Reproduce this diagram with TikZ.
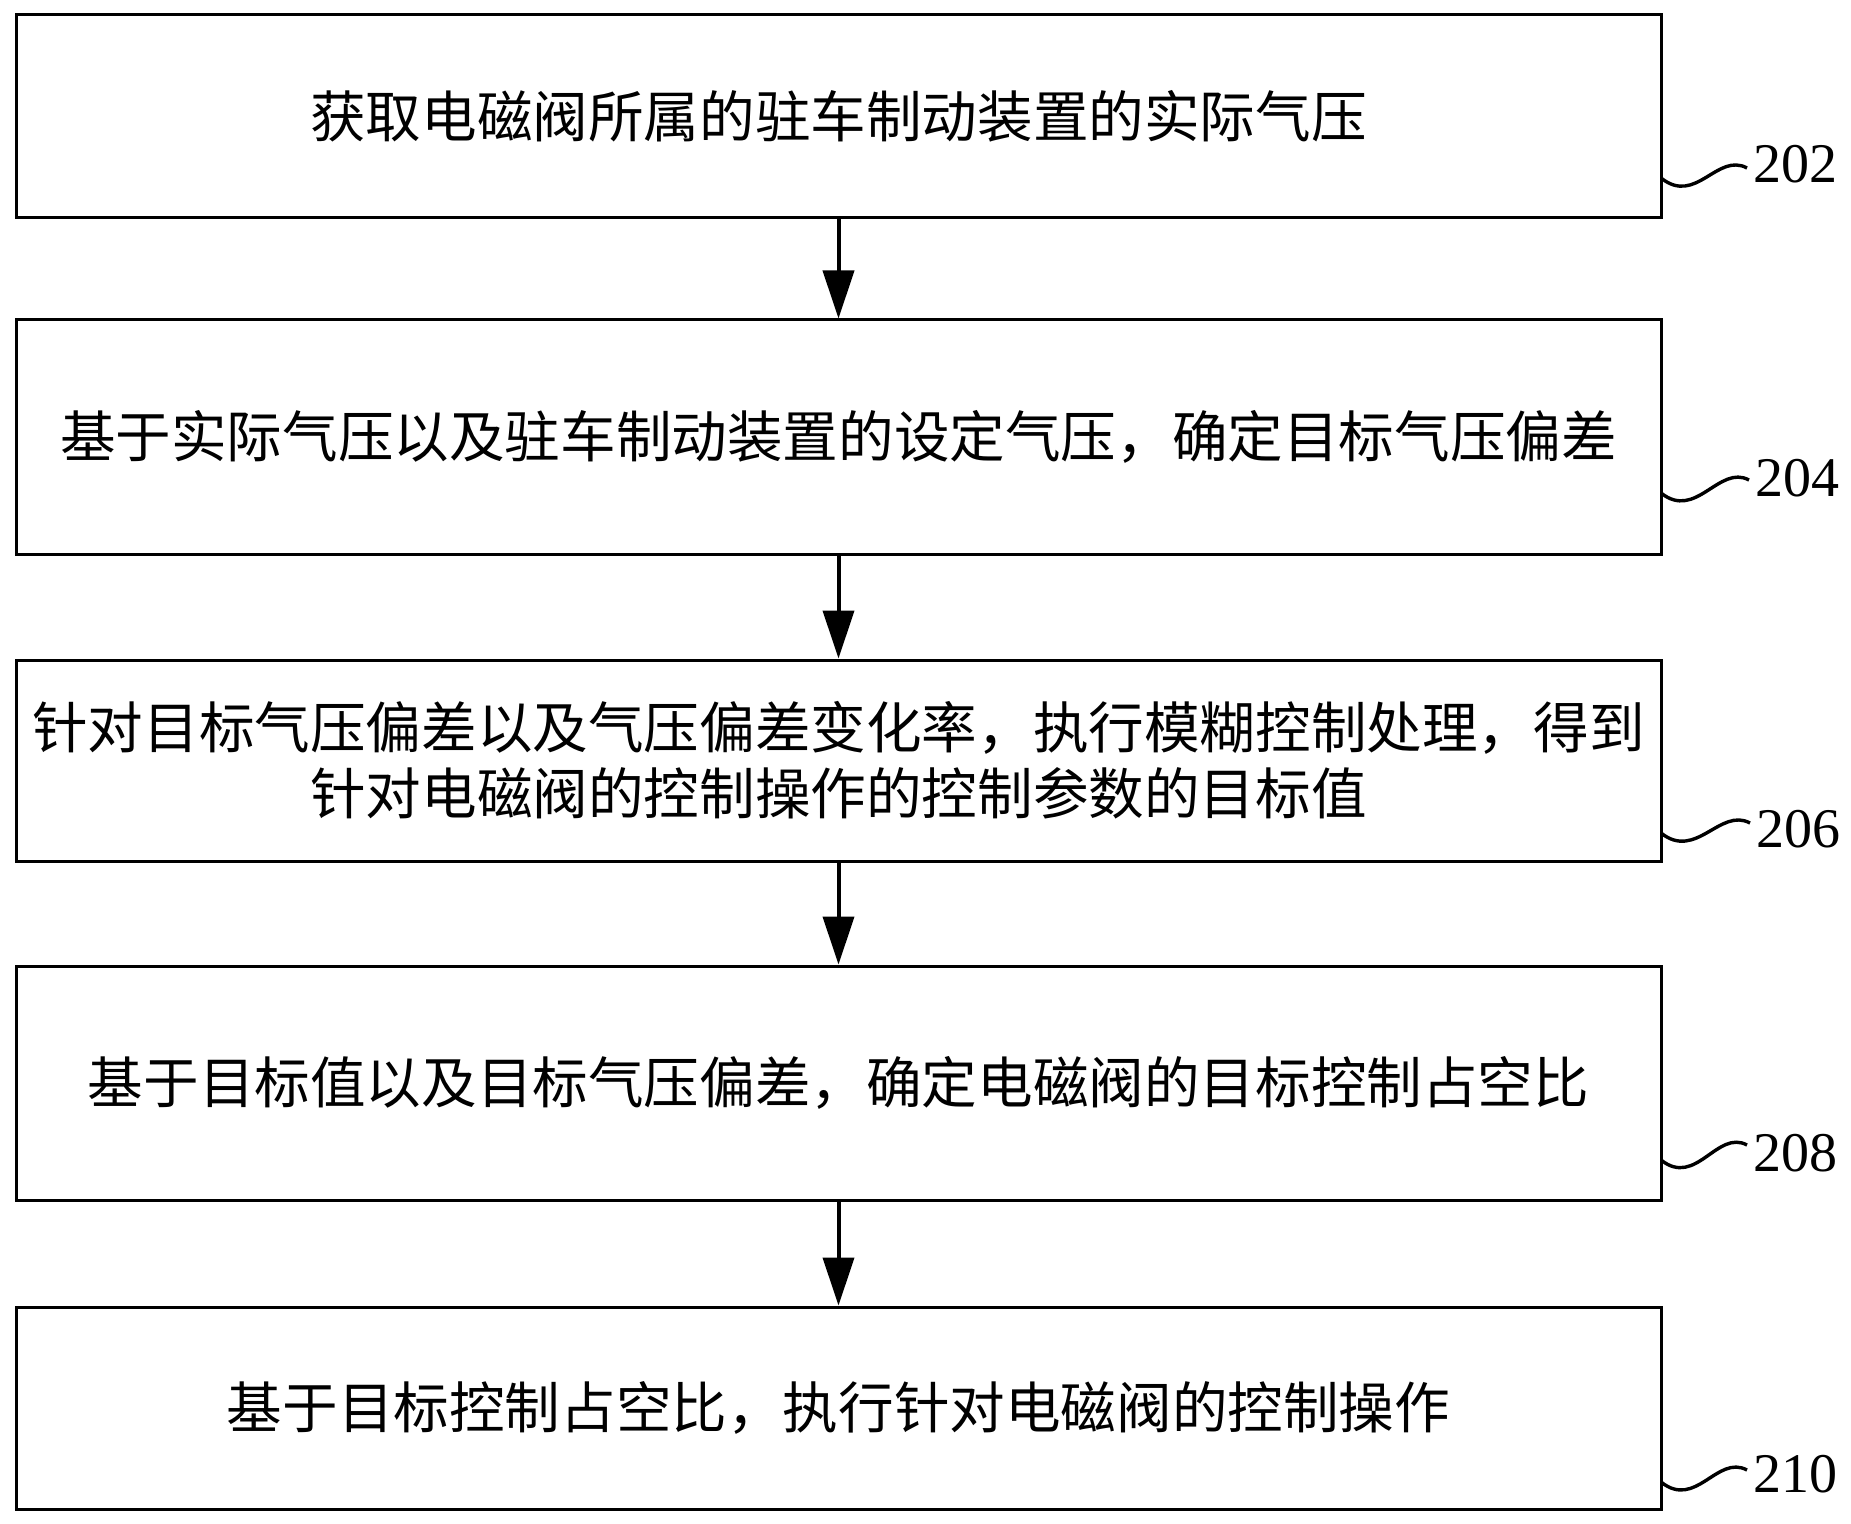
\documentclass[tikz,border=0pt]{standalone}
\usepackage{fontspec}
\setmainfont{Liberation Serif}
\newfontfamily\cjk{Noto Sans CJK SC}
\usetikzlibrary{arrows.meta}

\begin{document}
\begin{tikzpicture}[x=0.5pt, y=-0.5pt,
    stepbox/.style={draw, line width=1.5pt, minimum width=822.5pt, inner sep=0pt,
      align=center, font=\cjk\fontsize{27.8}{33}\selectfont},
    flow/.style={line width=2pt, -{Triangle[width=15.5pt, length=24pt]}},
    wave/.style={line width=1.7pt},
    tag/.style={inner sep=0pt, font=\fontsize{28}{28}\selectfont}]
    \useasboundingbox (0,0) rectangle (1851,1524);
    % steps
    \node[stepbox, minimum height=101.5pt] (s202) at (838.5,116.5) {获取电磁阀所属的驻车制动装置的实际气压};
    \node[stepbox, minimum height=117pt] (s204) at (838.5,437) {基于实际气压以及驻车制动装置的设定气压，确定目标气压偏差};
    \node[stepbox, minimum height=100.5pt] (s206) at (838.5,760.5) {针对目标气压偏差以及气压偏差变化率，执行模糊控制处理，得到\\针对电磁阀的控制操作的控制参数的目标值};
    \node[stepbox, minimum height=117pt] (s208) at (838.5,1083) {基于目标值以及目标气压偏差，确定电磁阀的目标控制占空比};
    \node[stepbox, minimum height=101pt] (s210) at (838.5,1408) {基于目标控制占空比，执行针对电磁阀的控制操作};

    % arrows
    \draw[flow] (s202) -- (s204);
    \draw[flow] (s204) -- (s206);
    \draw[flow] (s206) -- (s208);
    \draw[flow] (s208) -- (s210);

    % step numbers
    \node[tag] (n202) at (1795,164) {202};
    \node[tag] (n204) at (1797,478) {204};
    \node[tag] (n206) at (1798,829) {206};
    \node[tag] (n208) at (1795,1153) {208};
    \node[tag] (n210) at (1795,1474) {210};
    \coordinate (w202) at (1661,178);
    \coordinate (w204) at (1661,493);
    \coordinate (w206) at (1661,833);
    \coordinate (w208) at (1661,1160);
    \coordinate (w210) at (1661,1482);
    \draw[wave] (w202) .. controls +(35,28) and +(-30,-16) .. ++(86,-10);
    \draw[wave] (w204) .. controls +(35,28) and +(-30,-16) .. ++(88,-13);
    \draw[wave] (w206) .. controls +(35,28) and +(-30,-16) .. ++(89,-10);
    \draw[wave] (w208) .. controls +(35,28) and +(-30,-16) .. ++(86,-15);
    \draw[wave] (w210) .. controls +(35,28) and +(-30,-16) .. ++(86,-12);
\end{tikzpicture}
\end{document}
